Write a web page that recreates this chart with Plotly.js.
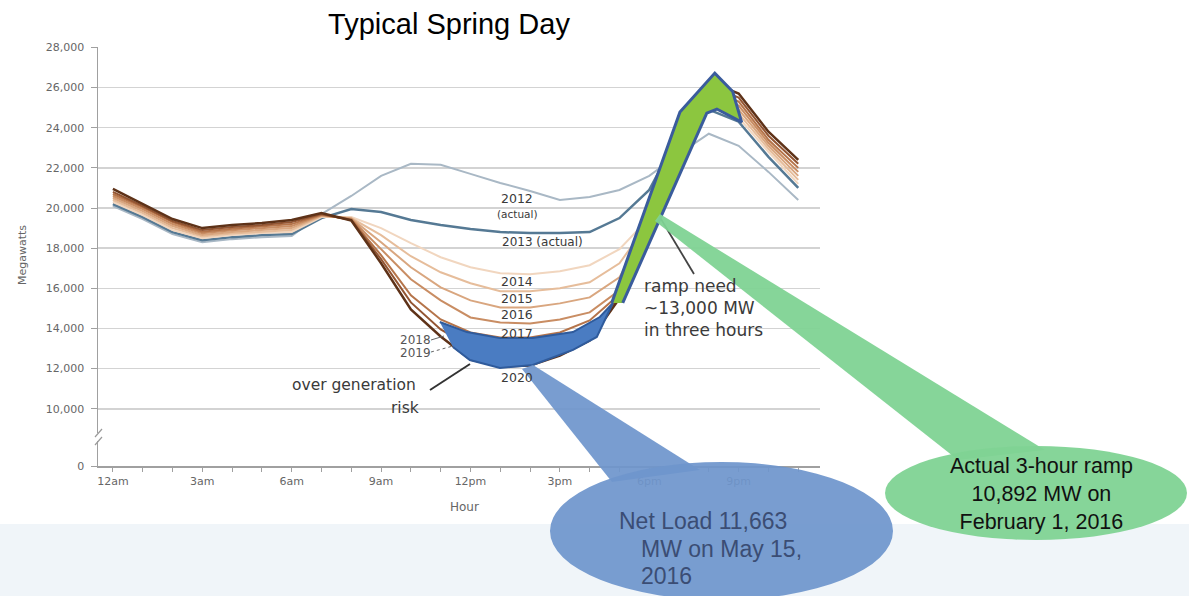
<!DOCTYPE html>
<html><head><meta charset="utf-8">
<script src="https://cdn.plot.ly/plotly-3.0.1.min.js"></script>
<style>html,body{margin:0;padding:0;background:#ffffff;}#chart{width:1189px;height:596px;}</style>
</head><body><div id="chart"></div>
<script>
// ---------- data ----------
const hours = [0,1,2,3,4,5,6,7,8,9,10,11,12,13,14,15,16,17,18,19,20,21,22,23];
const hourTickVals = [0,3,6,9,12,15,18,21];
const hourTickText = ["12am","3am","6am","9am","12pm","3pm","6pm","9pm"];
const mwTickVals = [7150,10000,12000,14000,16000,18000,20000,22000,24000,26000,28000];
const mwTickText = ["0","10,000","12,000","14,000","16,000","18,000","20,000","22,000","24,000","26,000","28,000"];

const load2012 = [20100,19450,18700,18300,18450,18550,18600,19700,20600,21600,22200,22150,21700,21250,20850,20400,20550,20900,21600,22700,23700,23100,21800,20400];
const load2013 = [20200,19550,18800,18400,18550,18650,18700,19500,19950,19800,19400,19150,18950,18800,18750,18750,18800,19500,20900,23700,24900,24300,22550,21000];
const load2014 = [20300,19650,18900,18500,18650,18750,18800,19550,19550,19000,18250,17550,17050,16750,16700,16850,17150,17950,19500,23900,25100,24500,22800,21200];
const load2015 = [20400,19750,19000,18580,18730,18830,18900,19600,19500,18650,17600,16800,16250,15850,15850,16000,16300,17250,19300,24000,25300,24700,22950,21400];
const load2016 = [20500,19850,19100,18660,18810,18910,19000,19620,19480,18300,17050,16050,15400,15050,15050,15250,15550,16550,19100,24100,25500,24900,23100,21600];
const load2017 = [20600,19950,19200,18740,18890,18990,19100,19650,19450,17950,16450,15400,14550,14300,14250,14450,14800,15900,18900,24200,25700,25100,23250,21800];
const load2018 = [20700,20050,19300,18820,18970,19070,19200,19680,19420,17650,15650,14450,13800,13550,13550,13800,14400,15700,18700,24300,25900,25300,23400,22000];
const load2019 = [20800,20100,19350,18900,19050,19150,19300,19700,19400,17450,15300,13950,13100,12800,12850,13150,13900,15550,18550,24450,26100,25500,23600,22200];
const load2020 = [20950,20200,19450,19000,19150,19250,19400,19750,19380,17250,14950,13600,12450,12100,12150,12650,13400,15500,18400,24600,26300,25700,23800,22400];

// over-generation risk band (hour, MW)
const overGenHours = [10.97,11.88,12.99,14.09,15.44,16.34,16.78,16.24,15.44,14.09,12.99,11.98,11.41];
const overGenMW    = [14320,13820,13520,13520,13820,14570,15270,13580,12930,12180,12030,12430,13080];
// ramp need band (hour, MW)
const rampHours = [16.74,19.03,20.2,20.8,21.1,20.27,19.93,18.36,17.11];
const rampMW    = [15270,24780,26720,25800,24280,24930,24730,19500,15270];

const yearNames = ["2012","2013","2014","2015","2016","2017","2018","2019","2020"];
const yearSeries = [load2012,load2013,load2014,load2015,load2016,load2017,load2018,load2019,load2020];
const yearColors = ["#a9b8c5","#557994","#f1d6bf","#e6bd9b","#d9a67f","#c98d63","#b5744a","#935532","#5e3218"];
const yearWidths = [2,2.5,2,2,2,2,2,2,2.5];

// ---------- helpers (pixel -> paper) ----------
const W = 1189, H = 596;
const px = x => x / W;
const py = y => 1 - y / H;
function pathFromPx(pts){
  return pts.map((p,i)=>(i?'L':'M')+px(p[0]).toFixed(5)+','+py(p[1]).toFixed(5)).join(' ')+' Z';
}

// ---------- traces ----------
const traces = [];
yearNames.forEach((n,i)=>{
  traces.push({x:hours,y:yearSeries[i],type:'scatter',mode:'lines',name:n,
    line:{color:yearColors[i],width:yearWidths[i]},hoverinfo:'skip',showlegend:false});
});
traces.push({x:overGenHours,y:overGenMW,type:'scatter',mode:'lines',fill:'toself',
  fillcolor:'#4a7cc2',line:{color:'#2f5b9c',width:2},hoverinfo:'skip',showlegend:false});
traces.push({x:rampHours,y:rampMW,type:'scatter',mode:'lines',fill:'toself',
  fillcolor:'#8cc63f',line:{color:'#3a5c9c',width:3},hoverinfo:'skip',showlegend:false});

// ---------- decorations ----------
const green = '#7fd394', blue = '#6f96cc';
const shapes = [
  {type:'rect',xref:'paper',yref:'paper',x0:0,x1:1,y0:0,y1:py(524),fillcolor:'#f0f5f9',line:{width:0},layer:'below'},
  // axis break
  {type:'rect',xref:'paper',yref:'paper',x0:px(95),x1:px(101),y0:py(441),y1:py(433),fillcolor:'#ffffff',line:{width:0},layer:'above'},
  {type:'line',xref:'paper',yref:'paper',x0:px(95),y0:py(437),x1:px(102),y1:py(429),line:{color:'#9a9a9a',width:1.2}},
  {type:'line',xref:'paper',yref:'paper',x0:px(95),y0:py(445),x1:px(102),y1:py(437),line:{color:'#9a9a9a',width:1.2}},
  // leader lines
  {type:'line',xref:'paper',yref:'paper',x0:px(431),y0:py(340),x1:px(444),y1:py(336),line:{color:'#666',width:1}},
  {type:'line',xref:'paper',yref:'paper',x0:px(431),y0:py(352),x1:px(453),y1:py(346),line:{color:'#666',width:1,dash:'dot'}},
  {type:'line',xref:'paper',yref:'paper',x0:px(430),y0:py(390),x1:px(470),y1:py(364),line:{color:'#333',width:2}},
  {type:'line',xref:'paper',yref:'paper',x0:px(694),y0:py(274),x1:px(661),y1:py(219),line:{color:'#444',width:1.8}},
  // callouts
  {type:'path',xref:'paper',yref:'paper',path:pathFromPx([[660,214],[1045,450],[958,460],[655,221]]),fillcolor:green,opacity:0.95,line:{width:0},layer:'above'},
  {type:'circle',xref:'paper',yref:'paper',x0:px(885),x1:px(1187),y0:py(540),y1:py(446),fillcolor:green,opacity:0.95,line:{width:0},layer:'above'},
  {type:'path',xref:'paper',yref:'paper',path:pathFromPx([[533,365],[700,470],[612,482],[522,369]]),fillcolor:blue,opacity:0.93,line:{width:0},layer:'above'},
  {type:'circle',xref:'paper',yref:'paper',x0:px(550),x1:px(893),y0:py(600),y1:py(462),fillcolor:blue,opacity:0.93,line:{width:0},layer:'above'}
];

const lab = (t,x,y,size,opts) => Object.assign({text:t,xref:'paper',yref:'paper',x:px(x),y:py(y),
  showarrow:false,xanchor:'center',yanchor:'middle',font:{family:'DejaVu Sans',size:size,color:'#3a3a3a'}},opts||{});
const annotations = [
  lab('2012',517,198,12.5),
  lab('(actual)',517,214,10.5),
  lab('2013 (actual)',542,242,12),
  lab('2014',517,281,12.5),
  lab('2015',517,298,12.5),
  lab('2016',517,314,12.5),
  lab('2017',517,333,12.5),
  lab('2018',415,340,12,{font:{family:'DejaVu Sans',size:12,color:'#555'}}),
  lab('2019',415,353,12,{font:{family:'DejaVu Sans',size:12,color:'#555'}}),
  lab('2020',517,377,12.5),
  lab('over generation',418,385,15.5,{xanchor:'right'}),
  lab('risk',421,408,15.5,{xanchor:'right'}),
  lab('ramp need<br>~13,000 MW<br>in three hours',642,308,17,{xanchor:'left',align:'left'}),
  lab('Megawatts',22,255,11,{textangle:-90,font:{family:'DejaVu Sans',size:11,color:'#666'}}),
  lab('Hour',464,507,12,{font:{family:'DejaVu Sans',size:12,color:'#666'}}),
  lab('Actual 3-hour ramp<br>10,892 MW on<br>February 1, 2016',1041,494,21.5,{font:{family:'Liberation Sans',size:21.5,color:'#111'}}),
  lab('Net Load 11,663',617,521,23,{xanchor:'left',font:{family:'Liberation Sans',size:23,color:'#3b4d74'}}),
  lab('MW on May 15,',639,549,23,{xanchor:'left',font:{family:'Liberation Sans',size:23,color:'#3b4d74'}}),
  lab('2016',639,576,23,{xanchor:'left',font:{family:'Liberation Sans',size:23,color:'#3b4d74'}})
];

const layout = {
  width:W,height:H,margin:{l:0,r:0,t:0,b:0,pad:0},
  paper_bgcolor:'#ffffff',plot_bgcolor:'rgba(0,0,0,0)',
  title:{text:'Typical Spring Day',x:px(449),y:py(24),xanchor:'center',yanchor:'middle',
    font:{family:'Liberation Sans',size:29,color:'#000'}},
  xaxis:{domain:[px(98),px(820)],range:[-0.5,23.73],tickvals:hourTickVals,ticktext:hourTickText,
    showgrid:false,zeroline:false,showline:true,linecolor:'#a0a0a0',linewidth:1.5,
    ticks:'outside',ticklen:4,tickcolor:'#a0a0a0',
    minor:{dtick:1,tick0:0,ticks:'outside',ticklen:4,tickcolor:'#a0a0a0',showgrid:false},
    tickfont:{family:'DejaVu Sans',size:11,color:'#666'},fixedrange:true},
  yaxis:{domain:[py(466),py(47)],range:[7150,28020],tickvals:mwTickVals,ticktext:mwTickText,
    showgrid:true,gridcolor:'#d3d3d3',gridwidth:1.5,zeroline:false,showline:true,linecolor:'#a0a0a0',linewidth:1.5,
    ticks:'outside',ticklen:6,tickcolor:'#a0a0a0',ticklabelstandoff:4,
    tickfont:{family:'DejaVu Sans',size:11,color:'#666'},fixedrange:true},
  shapes:shapes,annotations:annotations,showlegend:false
};
Plotly.newPlot('chart',traces,layout,{displayModeBar:false,staticPlot:true});
</script></body></html>
